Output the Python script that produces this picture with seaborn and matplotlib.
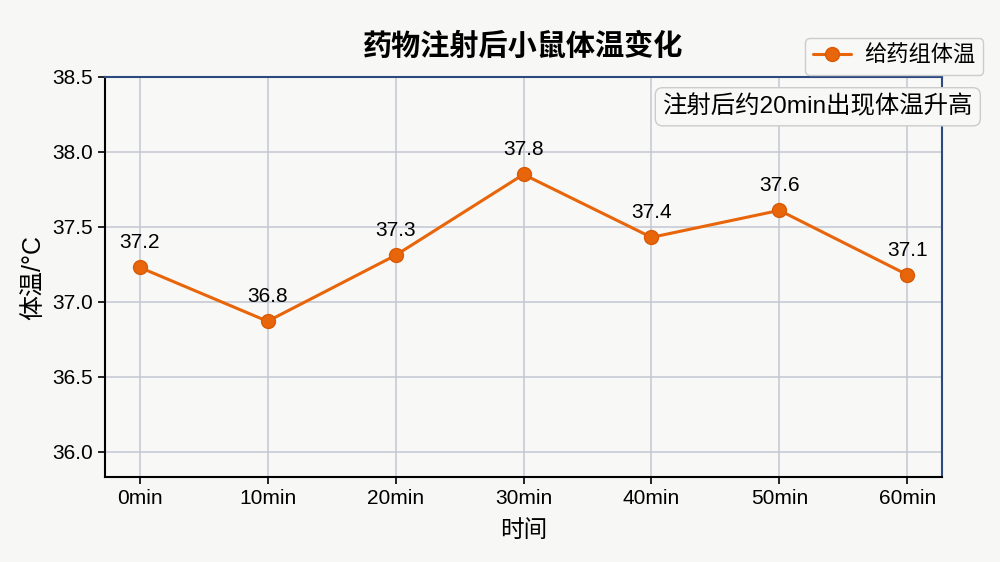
import matplotlib
matplotlib.use("Agg")
import matplotlib.pyplot as plt
import seaborn as sns
import pandas as pd

# data
time_labels = ['0min', '10min', '20min', '30min', '40min', '50min', '60min']
temps = [37.23, 36.87, 37.31, 37.85, 37.43, 37.61, 37.18]
temp_labels = ['37.2', '36.8', '37.3', '37.8', '37.4', '37.6', '37.1']

sns.set_style("whitegrid")
plt.rcParams['font.family'] = ['Liberation Sans', 'Noto Sans CJK SC', 'DejaVu Sans']
plt.rcParams['axes.unicode_minus'] = False
plt.rcParams['text.color'] = 'black'
plt.rcParams['axes.labelcolor'] = 'black'

df = pd.DataFrame({'time': range(len(time_labels)), 'temp': temps})

bg = '#f7f7f5'
orange = '#e8650a'

fig = plt.figure(figsize=(10, 5.62), dpi=100, facecolor=bg)
ax = fig.add_axes([0.105, 0.151, 0.837, 0.712])
ax.set_facecolor('#f8f8f7')

sns.lineplot(data=df, x='time', y='temp', ax=ax, color=orange, linewidth=2.2,
             marker='o', markersize=10, markerfacecolor=orange,
             markeredgecolor='#d85a05', markeredgewidth=1, label='给药组体温')

# value labels
for i, (v, t) in enumerate(zip(temps, temp_labels)):
    ax.annotate(t, (i, v), xytext=(0, 11), textcoords='offset points',
                ha='center', va='bottom', fontsize=15, color='black')

ax.set_xlim(-0.27, 6.27)
ax.set_ylim(35.83, 38.5)
ax.set_xticks(range(len(time_labels)))
ax.set_xticklabels(time_labels)
ax.set_yticks([36.0, 36.5, 37.0, 37.5, 38.0, 38.5])
ax.set_yticklabels(['36.0', '36.5', '37.0', '37.5', '38.0', '38.5'])
ax.tick_params(axis='both', labelsize=15, length=5, width=1.2, colors='black', bottom=True, left=True)
ax.grid(True, color='#c3c7d3', linewidth=1.1)

for side in ['left', 'bottom']:
    ax.spines[side].set_color('black')
    ax.spines[side].set_linewidth(1.5)
for side in ['top', 'right']:
    ax.spines[side].set_color('#2c4a7f')
    ax.spines[side].set_linewidth(1.5)

ax.set_title('药物注射后小鼠体温变化', fontsize=21, fontweight='bold', pad=16)
ax.set_xlabel('时间', fontsize=17, fontweight='medium', labelpad=9)
ax.set_ylabel('体温/°C', fontsize=18, fontweight='medium', labelpad=5)

leg = ax.legend(loc='upper right', bbox_to_anchor=(0.983, 0.932), bbox_transform=fig.transFigure,
                borderaxespad=0, fontsize=16, frameon=True, fancybox=True,
                handlelength=1.7, handletextpad=0.6, borderpad=0.35)
leg.get_frame().set_facecolor('#f8f8f7')
leg.get_frame().set_edgecolor('#cccccc')
leg.get_frame().set_alpha(1)

fig.text(0.973, 0.81, '注射后约20min出现体温升高', ha='right', va='center', fontsize=17.6,
         bbox=dict(boxstyle='round,pad=0.3', facecolor='#f8f8f7', edgecolor='#cccccc'))

fig.savefig('out.png', dpi=100, facecolor=bg)
